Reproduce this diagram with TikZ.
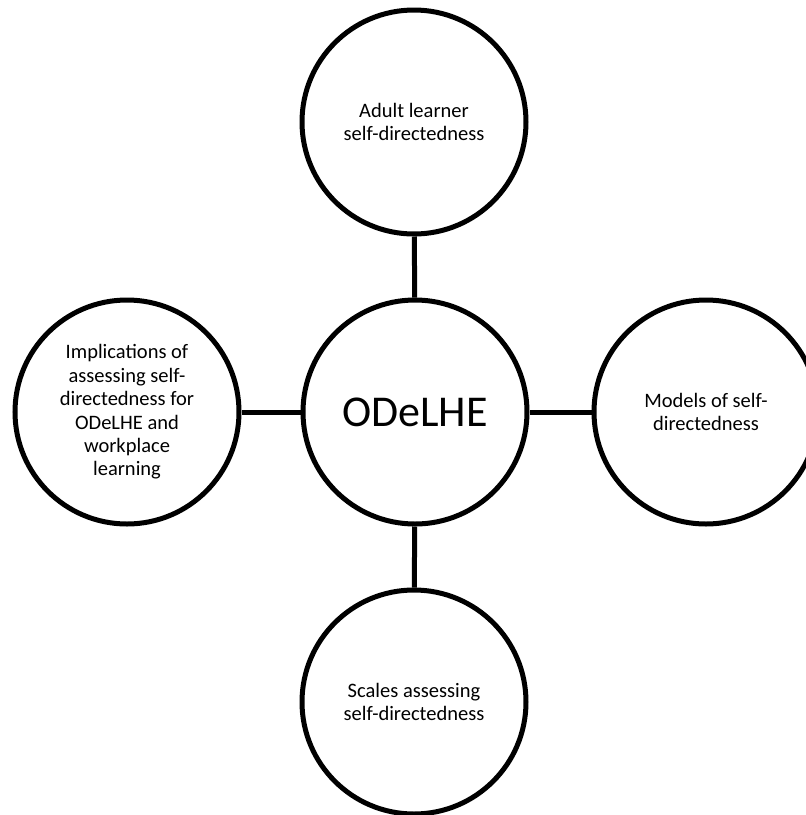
\documentclass[tikz,border=0pt]{standalone}
\usepackage{fontspec}
\setmainfont{Carlito}
\begin{document}
\begin{tikzpicture}[x=1pt,y=-1pt,
  bub/.style={circle,draw=black,line width=5pt,minimum size=224pt,inner sep=0pt,align=center,font=\fontsize{20.5}{23.4}\selectfont},
  link/.style={line width=5pt}]
\useasboundingbox (0,0) rectangle (806,815);
\clip (0,0) rectangle (806,815);
\node[bub,font=\fontsize{44}{50}\selectfont] (c) at (415,412) {ODeLHE};
\node[bub] (t) at (414,122) {Adult learner\\self-directedness};
\node[bub] (l) at (127,412) {Implications of\\assessing self-\\directedness for\\ODeLHE and\\workplace\\learning};
\node[bub] (r) at (706,412) {Models of self-\\directedness};
\node[bub] (b) at (414,702) {Scales assessing\\self-directedness};
\draw[link] (t) -- (c);
\draw[link] (l) -- (c);
\draw[link] (c) -- (r);
\draw[link] (c) -- (b);
\end{tikzpicture}
\end{document}
